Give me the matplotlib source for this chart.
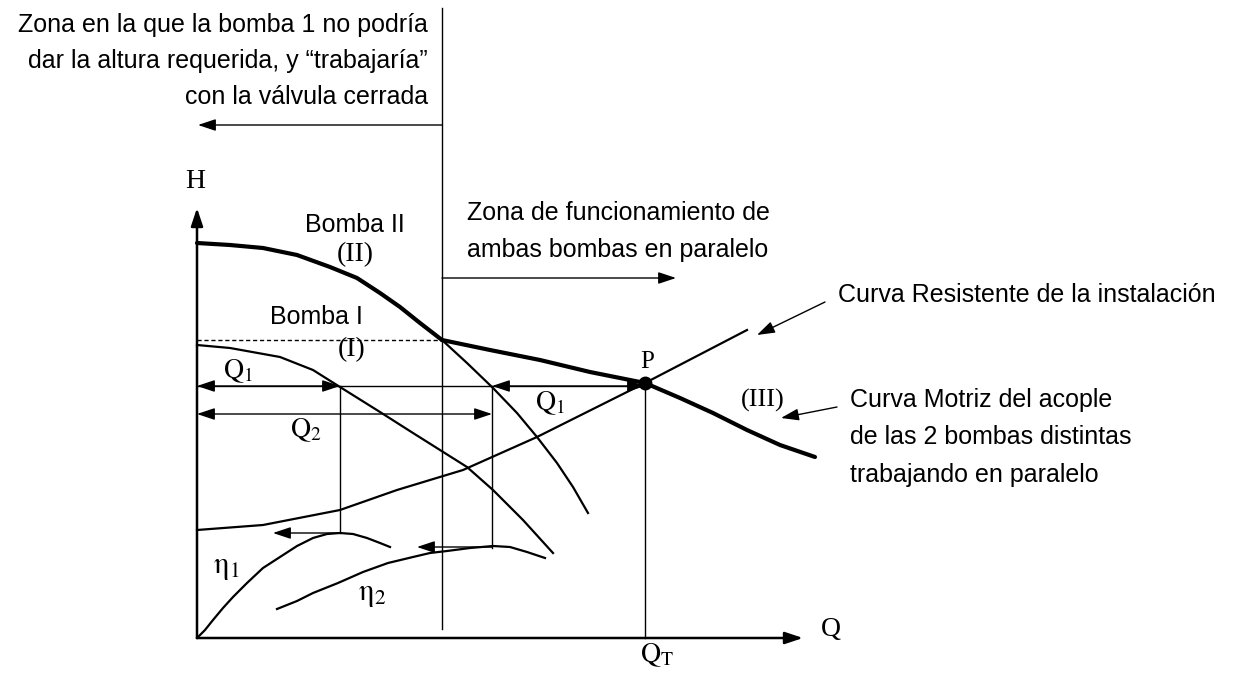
import numpy as np
import matplotlib
matplotlib.use('Agg')
import matplotlib.pyplot as plt

# Fuentes: sans para los textos, serif para las etiquetas del esquema
SANS = 'Liberation Sans'
SERIF = 'Liberation Serif'
plt.rcParams['mathtext.fontset'] = 'stix'

bomba2_q = [0, 33, 66, 100, 133, 160, 183, 203, 223, 245, 270, 296, 320, 340, 360, 376, 391]
bomba2_h = [395, 393, 390, 383, 371, 360, 345, 331, 315, 298, 275, 250, 225, 201, 175, 151, 125]
bomba1_q = [0, 33, 83, 116, 143, 183, 216, 243, 270, 296, 326, 356]
bomba1_h = [293, 290, 281, 268, 251, 226, 205, 188, 171, 148, 118, 85]
acople_q = [245, 293, 343, 393, 448, 483, 516, 550, 583, 618]
acople_h = [298, 288, 278, 266, 255, 240, 225, 208, 193, 181]
resist_q = [0, 66, 143, 200, 266, 340, 448, 550]
resist_h = [108, 113, 128, 148, 168, 201, 255, 308]
eta1_q = [0, 8, 16, 26, 36, 50, 66, 83, 100, 116, 130, 143, 156, 170, 183, 193]
eta1_h = [0, 8, 18, 30, 41, 55, 70, 81, 92, 100, 104, 105, 104, 100, 95, 91]
eta2_q = [80, 100, 116, 141, 166, 191, 216, 233, 250, 273, 296, 313, 330, 348]
eta2_h = [29, 37, 45, 55, 66, 75, 81, 85, 87, 90, 92, 91, 86, 80]

# Puntos caracteristicos
q_cruce, h_cruce = 245, 298      # bomba II corta a la altura maxima de bomba I
q_p, h_p = 448, 255              # punto de funcionamiento P
q_1, q_2 = 143, 295              # caudales Q1 y Q2
h_q1, h_q2 = 252, 224            # alturas de las flechas Q1 y Q2
h_eta1, h_eta2 = 105, 91
q_max, h_max = 606, 430          # extremos de los ejes

fig = plt.figure(figsize=(12.38, 6.8), dpi=100)
ax = fig.add_axes([0, 0, 1, 1])
ax.set_xlim(-197, 1041)
ax.set_ylim(-42, 638)
ax.axis('off')

def flecha(p0, p1, estilo='-|>', lw=1.2):
    ax.annotate('', xy=p1, xytext=p0,
                arrowprops=dict(arrowstyle=estilo + ',head_length=0.9,head_width=0.3',
                                mutation_scale=12, lw=lw, color='black',
                                shrinkA=0, shrinkB=0))

# Ejes
flecha((0, 0), (0, h_max), lw=1.8)
flecha((0, 0), (q_max, 0), lw=1.8)

# Curvas de las bombas
b2q = np.array(bomba2_q)
b2h = np.array(bomba2_h)
ax.plot(b2q[b2q <= q_cruce], b2h[b2q <= q_cruce], color='black', lw=3.0,
        solid_capstyle='round', solid_joinstyle='round')
ax.plot(b2q[b2q >= q_cruce], b2h[b2q >= q_cruce], color='black', lw=1.6,
        solid_joinstyle='round')
ax.plot(bomba1_q, bomba1_h, color='black', lw=1.6, solid_joinstyle='round')
ax.plot(acople_q, acople_h, color='black', lw=3.0, solid_capstyle='round',
        solid_joinstyle='round')
ax.plot(resist_q, resist_h, color='black', lw=1.6, solid_joinstyle='round')
ax.plot(eta1_q, eta1_h, color='black', lw=1.6, solid_joinstyle='round')
ax.plot(eta2_q, eta2_h, color='black', lw=1.6, solid_joinstyle='round')
ax.plot([0, q_cruce], [h_cruce, h_cruce], color='black', lw=1.0, ls=(0, (3, 2)))
ax.plot([q_p], [h_p], 'o', color='black', ms=9)

# Lineas verticales
ax.plot([q_cruce, q_cruce], [9, 630], color='black', lw=1.0)
ax.plot([q_1, q_1], [h_eta1, h_q1], color='black', lw=1.0)
ax.plot([q_2, q_2], [h_eta2 - 1, h_q1], color='black', lw=1.0)
ax.plot([q_p, q_p], [0, h_p], color='black', lw=1.0)

# Cotas de caudal
ax.plot([0, q_p], [h_q1, h_q1], color='black', lw=1.0)
flecha((q_1, h_q1), (0, h_q1), '<|-|>', lw=1.0)
flecha((q_p, h_q1), (q_2, h_q1), '<|-|>', lw=1.0)
flecha((q_2, h_q2), (0, h_q2), '<|-|>', lw=1.0)
flecha((q_1, h_eta1), (76, h_eta1), lw=1.0)
flecha((q_2, h_eta2), (220, h_eta2), lw=1.0)

# Flechas de zonas y llamadas
flecha((q_cruce, 513), (1, 513), lw=1.0)
flecha((q_cruce, 360), (479, 360), lw=1.0)
flecha((628, 336), (560, 303), lw=1.0)
flecha((640, 231), (584, 220), lw=1.0)

# Textos sans
fs = 18
for i, linea in enumerate(['Zona en la que la bomba 1 no podría',
                           'dar la altura requerida, y “trabajaría”',
                           'con la válvula cerrada']):
    ax.text(231, 613 - 36 * i, linea, family=SANS, fontsize=fs, ha='right', va='center')
for i, linea in enumerate(['Zona de funcionamiento de', 'ambas bombas en paralelo']):
    ax.text(270, 425 - 37 * i, linea, family=SANS, fontsize=fs, ha='left', va='center')
ax.text(641, 343, 'Curva Resistente de la instalación', family=SANS, fontsize=fs,
        ha='left', va='center')
for i, linea in enumerate(['Curva Motriz del acople', 'de las 2 bombas distintas',
                           'trabajando en paralelo']):
    ax.text(653, 238 - 37.5 * i, linea, family=SANS, fontsize=fs, ha='left', va='center')
ax.text(108, 413, 'Bomba II', family=SANS, fontsize=fs, ha='left', va='center')
ax.text(73, 321, 'Bomba I', family=SANS, fontsize=fs, ha='left', va='center')

# Etiquetas serif
ax.text(158, 383, '(II)', family=SERIF, fontsize=20, ha='center', va='center')
ax.text(155, 288, '(I)', family=SERIF, fontsize=20, ha='center', va='center')
ax.text(566, 238, '(III)', family=SERIF, fontsize=19, ha='center', va='center')
ax.text(450, 270, 'P', family=SERIF, fontsize=18, ha='center', va='baseline')
ax.text(-2, 457, 'H', family=SERIF, fontsize=20, ha='center', va='center')
ax.text(624, 9, 'Q', family=SERIF, fontsize=20, ha='left', va='center')
ax.text(26, 260, r'$\mathrm{Q}_1$', fontsize=20, ha='left', va='baseline')
ax.text(93, 201, r'$\mathrm{Q}_2$', fontsize=20, ha='left', va='baseline')
ax.text(338, 228, r'$\mathrm{Q}_1$', fontsize=20, ha='left', va='baseline')
ax.text(443, -24, r'$\mathrm{Q}_\mathrm{T}$', fontsize=20, ha='left', va='baseline')
ax.text(16, 65, r'$\mathrm{η}_1$', fontsize=22, ha='left', va='baseline')
ax.text(161, 38, r'$\mathrm{η}_2$', fontsize=22, ha='left', va='baseline')

fig.savefig('out.png', dpi=100)
